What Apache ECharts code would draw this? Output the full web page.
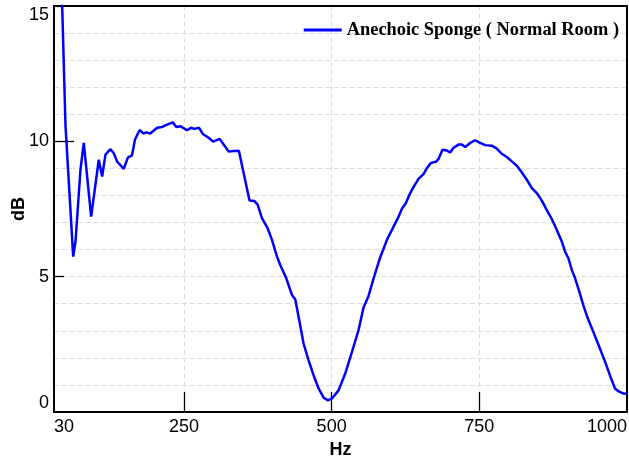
<!DOCTYPE html>
<html>
<head>
<meta charset="utf-8">
<script src="https://cdn.jsdelivr.net/npm/echarts@6/dist/echarts.min.js"></script>
<style>
  html, body { margin: 0; padding: 0; background: #fff; }
  #chart { width: 629px; height: 463px; }
</style>
</head>
<body>
<div id="chart"></div>
<script>
// Frequency response of the anechoic sponge measured in a normal room
const seriesName = 'Anechoic Sponge ( Normal Room )';
const hz = [40, 49.5, 62.5, 66.4, 74.8, 80.4, 92.9, 105.8, 111.5, 117.1, 125.6, 131.2, 136.9, 148.1, 155, 162, 167, 175, 181, 186.5,
  193, 204.6, 213, 221.5, 231, 237, 244, 255, 262, 267.6, 275.6, 282.4, 291.8, 299.3, 310.4, 317.2, 325.7, 334, 343, 351,
  361, 369, 374.7, 382, 391.6, 399, 407.5, 413, 423, 432.9, 438.5, 444, 452.5, 461, 469.4, 477.9, 486.4, 493.8, 500.6, 511.7,
  523, 534.4, 545.6, 554, 562.5, 571, 582, 593.6, 604.8, 613, 619, 625.7, 633, 637.6, 647, 655.5, 661.3, 668, 677, 681,
  687.6, 695, 700.7, 706.3, 714.7, 720.5, 726, 734.5, 743, 751.4, 760, 771, 779.6, 788, 796.6, 805, 813.5, 822, 830.4, 839,
  847.3, 855.8, 864, 872.7, 881, 889.6, 895, 900.8, 906.5, 912, 919.4, 926, 933.6, 943, 953, 963, 971, 979.7, 985.3, 993.8, 1000];
const db = [18, 10.56, 5.74, 6.30, 8.95, 9.94, 7.22, 9.32, 8.70, 9.51, 9.71, 9.56, 9.25, 8.98, 9.40, 9.48, 10.06, 10.42, 10.29, 10.33,
  10.29, 10.50, 10.53, 10.62, 10.70, 10.53, 10.56, 10.41, 10.50, 10.46, 10.50, 10.26, 10.13, 9.99, 10.09, 9.88, 9.62, 9.64, 9.65, 8.83,
  7.81, 7.80, 7.66, 7.16, 6.79, 6.36, 5.74, 5.43, 4.95, 4.32, 4.16, 3.52, 2.53, 1.91, 1.36, 0.87, 0.53, 0.43, 0.50, 0.80,
  1.42, 2.22, 3.03, 3.86, 4.29, 4.94, 5.70, 6.36, 6.85, 7.20, 7.51, 7.72, 8.09, 8.27, 8.61, 8.79, 9.01, 9.20, 9.25, 9.35,
  9.69, 9.66, 9.59, 9.76, 9.88, 9.88, 9.79, 9.94, 10.04, 9.94, 9.86, 9.84, 9.73, 9.54, 9.42, 9.26, 9.10, 8.85, 8.58, 8.27,
  8.09, 7.81, 7.47, 7.13, 6.73, 6.30, 5.93, 5.68, 5.25, 4.95, 4.44, 3.95, 3.46, 2.96, 2.41, 1.85, 1.36, 0.87, 0.77, 0.68, 0.67];

const xLabels = [30, 250, 500, 750, 1000];
const xTicks = [250, 500, 750];
const yShortTicks = [5];
const yLongTicks = [10];
const xMin = 30, xMax = 1000;
const yMin = 0, yMax = 15, yStep = 5;

const chart = echarts.init(document.getElementById('chart'), null, { renderer: 'canvas' });
const gridDash = { color: '#dcdcdc', width: 1, type: [5, 3] };
const tickFont = { color: '#000', fontFamily: 'Liberation Sans, Arial, sans-serif', fontSize: 18 };
const nameFont = { fontFamily: 'Liberation Sans, Arial, sans-serif', fontWeight: 'bold', fontSize: 18, color: '#000' };
const frameLine = { show: true, onZero: false, lineStyle: { color: '#000', width: 2 } };
const tickStyle = { color: '#000', width: 1.3 };

// plain axis used only to draw a frame edge (top / right) or an extra set of ticks
function frameAxis(extra) {
  return Object.assign({
    type: 'value',
    axisLine: frameLine,
    axisTick: { show: false },
    axisLabel: { show: false },
    splitLine: { show: false }
  }, extra);
}

chart.setOption({
  animation: false,
  backgroundColor: '#fff',
  grid: { left: 54, right: 2, top: 6, bottom: 51, outerBoundsMode: 'none', containLabel: false },
  legend: {
    right: 5, top: 16,
    icon: 'rect', itemWidth: 38, itemHeight: 3, itemGap: 7,
    textStyle: { fontFamily: 'Liberation Serif, Times New Roman, serif', fontWeight: 'bold', fontSize: 18.4, color: '#000' },
    data: [seriesName]
  },
  xAxis: [{
    type: 'value', min: xMin, max: xMax, position: 'bottom',
    name: 'Hz', nameLocation: 'middle', nameGap: 29, nameMoveOverlap: false,
    nameTextStyle: nameFont,
    axisLine: frameLine,
    axisTick: { show: true, inside: true, length: 20, customValues: xTicks, lineStyle: tickStyle },
    axisLabel: Object.assign({
      show: true, margin: 6, customValues: xLabels, alignMinLabel: 'left', alignMaxLabel: 'right',
      formatter: v => String(v)
    }, tickFont),
    splitLine: { show: true, lineStyle: gridDash }
  }, frameAxis({ min: xMin, max: xMax, position: 'top' })],
  yAxis: [{
    type: 'value', min: yMin, max: yMax, interval: yStep, position: 'left',
    name: 'dB', nameLocation: 'middle', nameGap: 26, nameMoveOverlap: false,
    nameTextStyle: nameFont,
    axisLine: frameLine,
    axisTick: { show: true, inside: true, length: 10, customValues: yShortTicks, lineStyle: tickStyle },
    axisLabel: Object.assign({ show: true, margin: 5, verticalAlignMinLabel: 'bottom', verticalAlignMaxLabel: 'top' }, tickFont),
    splitLine: { show: true, lineStyle: gridDash },
    minorTick: { show: false, splitNumber: 5 },
    minorSplitLine: { show: true, lineStyle: gridDash }
  },
  frameAxis({
    min: yMin, max: yMax, position: 'left', offset: 0,
    axisTick: { show: true, inside: true, length: 20, customValues: yLongTicks, lineStyle: tickStyle }
  }),
  frameAxis({ min: yMin, max: yMax, position: 'right' })],
  series: [{
    name: seriesName,
    type: 'line',
    xAxisIndex: 0, yAxisIndex: 0,
    symbol: 'none',
    smooth: false,
    clip: true,
    lineStyle: { color: '#0000ff', width: 2.5 },
    itemStyle: { color: '#0000ff' },
    data: hz.map((f, i) => [f, db[i]])
  }]
});
</script>
</body>
</html>
